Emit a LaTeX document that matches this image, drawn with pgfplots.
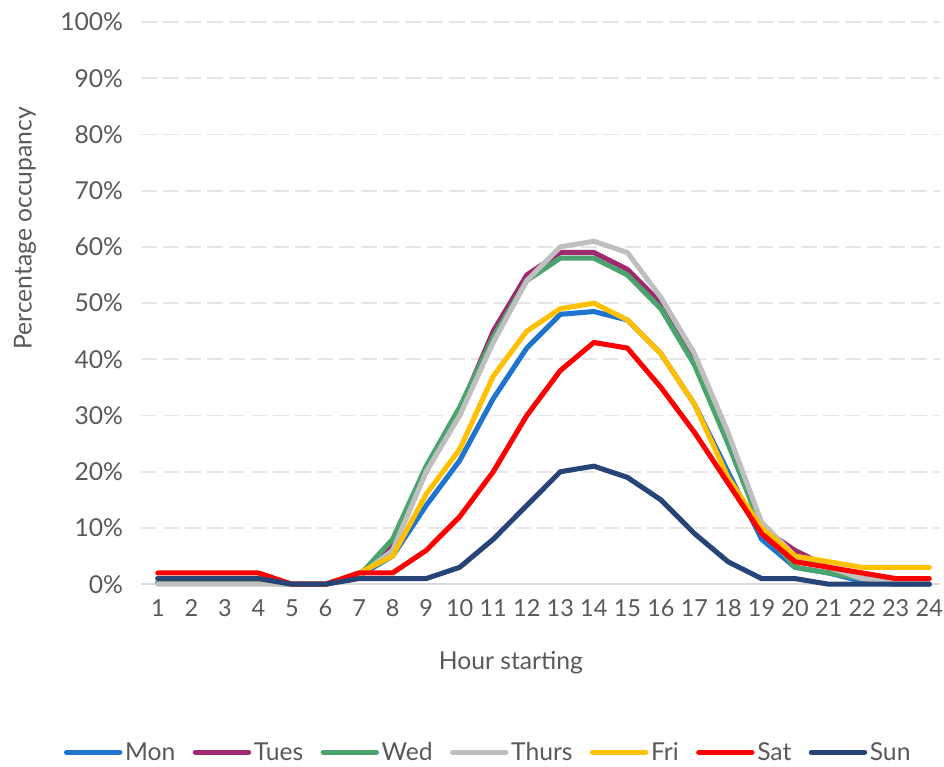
\documentclass[border=0pt]{standalone}
\usepackage{fontspec}
\setmainfont{Lato}
\usepackage{pgfplots}
\pgfplotsset{compat=1.18}

\definecolor{txt}{HTML}{595959}
\definecolor{gridc}{HTML}{E6E6E6}
\definecolor{axisc}{HTML}{D9D9D9}
\definecolor{cmon}{HTML}{1F74D0}
\definecolor{ctue}{HTML}{9E2A72}
\definecolor{cwed}{HTML}{4BA36D}
\definecolor{cthu}{HTML}{BFBFBF}
\definecolor{cfri}{HTML}{FFC000}
\definecolor{csat}{HTML}{FF0000}
\definecolor{csun}{HTML}{264478}

\begin{document}
\begin{tikzpicture}
\begin{axis}[
  name=main,
  scale only axis,
  width=599pt, height=421.5pt,
  xmin=0.5, xmax=24.32,
  ymin=0, ymax=100,
  xtick={1,...,24},
  ytick={0,10,...,100},
  yticklabels={0\%,10\%,20\%,30\%,40\%,50\%,60\%,70\%,80\%,90\%,100\%},
  /pgf/number format/assume math mode=true,
  font=\fontsize{18.5}{21}\selectfont,
  tick label style={text=txt},
  major tick length=0pt,
  axis x line*=bottom,
  axis y line*=left,
  y axis line style={draw=none},
  x axis line style={draw=axisc, line width=1.2pt, -},
  ymajorgrids,
  grid style={draw=gridc, line width=1.3pt, dash pattern=on 12pt off 4.5pt},
  yticklabel style={anchor=east, xshift=-10pt},
  xticklabel style={yshift=-8pt, font=\fontsize{17.6}{20}\selectfont, inner xsep=0pt},
  xlabel={Hour starting},
  xlabel style={at={(rel axis cs:0.463,0)}, anchor=center, yshift=-59pt, text=txt},
  ylabel={Percentage occupancy},
  ylabel style={at={(rel axis cs:0,0.633)}, anchor=center, yshift=87pt, text=txt},
  every axis plot/.append style={line width=3.8pt, line join=round, line cap=round, mark=none},
  legend columns=7,
  legend style={at={(0.435,-0.299)}, anchor=center, draw=none, fill=none,
    text=txt, /tikz/every even column/.append style={column sep=11pt},
    nodes={inner xsep=2pt}},
  legend image code/.code={\draw[#1, line width=3.8pt, line cap=round] (0pt,0pt) -- (40pt,0pt);},
  clip=false,
]
% Mon
\addplot[cmon] coordinates {(1,1) (2,1) (3,1) (4,1) (5,0) (6,0) (7,1.5) (8,5) (9,14) (10,22) (11,33) (12,42) (13,48) (14,48.5) (15,47) (16,41) (17,32) (18,20) (19,8) (20,3) (21,2) (22,0.5) (23,0) (24,0)};
% Tues
\addplot[ctue] coordinates {(1,0.3) (2,0.3) (3,0.3) (4,0.3) (5,0) (6,0) (7,1.5) (8,7) (9,20) (10,31) (11,45) (12,55) (13,59) (14,59) (15,56) (16,50) (17,40) (18,26) (19,10) (20,6) (21,3) (22,1) (23,0.5) (24,0)};
% Wed
\addplot[cwed] coordinates {(1,0.3) (2,0.3) (3,0.3) (4,0.3) (5,0) (6,0) (7,1.5) (8,8) (9,21) (10,31.5) (11,44) (12,54) (13,58) (14,58) (15,55) (16,49) (17,39) (18,25) (19,10) (20,3) (21,2) (22,1) (23,0.5) (24,0)};
% Thurs
\addplot[cthu] coordinates {(1,0) (2,0) (3,0) (4,0) (5,0) (6,0) (7,1.5) (8,6) (9,20) (10,30) (11,43) (12,54) (13,60) (14,61) (15,59) (16,51) (17,41) (18,27) (19,11) (20,5) (21,3) (22,1) (23,0.5) (24,0)};
% Fri
\addplot[cfri] coordinates {(1,1) (2,1) (3,1) (4,1) (5,0) (6,0) (7,2) (8,5) (9,16) (10,24) (11,37) (12,45) (13,49) (14,50) (15,47) (16,41) (17,32) (18,19) (19,10) (20,5) (21,4) (22,3) (23,3) (24,3)};
% Sat
\addplot[csat] coordinates {(1,2) (2,2) (3,2) (4,2) (5,0) (6,0) (7,2) (8,2) (9,6) (10,12) (11,20) (12,30) (13,38) (14,43) (15,42) (16,35) (17,27) (18,18) (19,9) (20,4) (21,3) (22,2) (23,1) (24,1)};
% Sun
\addplot[csun] coordinates {(1,1) (2,1) (3,1) (4,1) (5,0) (6,0) (7,1) (8,1) (9,1) (10,3) (11,8) (12,14) (13,20) (14,21) (15,19) (16,15) (17,9) (18,4) (19,1) (20,1) (21,0) (22,0) (23,0) (24,0)};
\legend{Mon,Tues,Wed,Thurs,Fri,Sat,Sun}
\end{axis}
\pgfresetboundingbox
\path ([xshift=-105.75pt, yshift=-136.5pt]main.south west) rectangle ([xshift=3pt, yshift=16.5pt]main.north east);
\end{tikzpicture}
\end{document}
